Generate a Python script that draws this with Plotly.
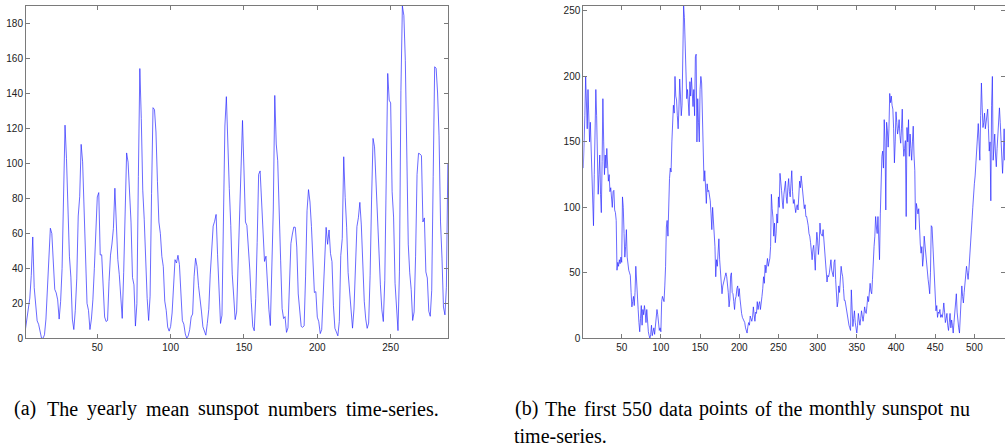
import plotly.graph_objects as go

# ---------------- data ----------------
yearly = [
    5.0, 11.0, 16.0, 23.0, 36.0, 58.0, 29.0, 20.0, 10.0, 8.0,
    3.0, 0.0, 0.0, 2.0, 11.0, 27.0, 47.0, 63.0, 60.0, 39.0,
    28.0, 26.0, 22.0, 11.0, 21.0, 40.0, 78.0, 122.0, 103.0, 73.0,
    47.0, 35.0, 11.0, 5.0, 16.0, 34.0, 70.0, 81.0, 111.0, 101.0,
    73.0, 40.0, 20.0, 16.0, 5.0, 11.0, 22.0, 40.0, 60.0, 80.9,
    83.4, 47.7, 47.8, 30.7, 12.2, 9.6, 10.2, 32.4, 47.6, 54.0,
    62.9, 85.9, 61.2, 45.1, 36.4, 20.9, 11.4, 37.8, 69.8, 106.1,
    100.8, 81.6, 66.5, 34.8, 30.6, 7.0, 19.8, 92.5, 154.4, 125.9,
    84.8, 68.1, 38.5, 22.8, 10.2, 24.1, 82.9, 132.0, 130.9, 118.1,
    89.9, 66.6, 60.0, 46.9, 41.0, 21.3, 16.0, 6.4, 4.1, 6.8,
    14.5, 34.0, 45.0, 43.1, 47.5, 42.2, 28.1, 10.1, 8.1, 2.5,
    0.0, 1.4, 5.0, 12.2, 13.9, 35.4, 45.8, 41.1, 30.1, 23.9,
    15.6, 6.6, 4.0, 1.8, 8.5, 16.6, 36.3, 49.6, 64.2, 67.0,
    70.9, 47.8, 27.5, 8.5, 13.2, 56.9, 121.5, 138.3, 103.2, 85.7,
    64.6, 36.7, 24.2, 10.7, 15.0, 40.1, 61.5, 98.5, 124.7, 96.3,
    66.6, 64.5, 54.1, 39.0, 20.6, 6.7, 4.3, 22.7, 54.8, 93.8,
    95.8, 77.2, 59.1, 44.0, 47.0, 30.5, 16.3, 7.3, 37.6, 74.0,
    139.0, 111.2, 101.6, 66.2, 44.7, 17.0, 11.3, 12.4, 3.4, 6.0,
    32.3, 54.3, 59.7, 63.7, 63.5, 52.2, 25.4, 13.1, 6.8, 6.3,
    7.1, 35.6, 73.0, 85.1, 78.0, 64.0, 41.8, 26.2, 26.7, 12.1,
    9.5, 2.7, 5.0, 24.4, 42.0, 63.5, 53.8, 62.0, 48.5, 43.9,
    18.6, 5.7, 3.6, 1.4, 9.6, 47.4, 57.1, 103.9, 80.6, 63.6,
    37.6, 26.1, 14.2, 5.8, 16.7, 44.3, 63.9, 69.0, 77.8, 64.9,
    35.7, 21.2, 11.1, 5.7, 8.7, 36.1, 79.7, 114.4, 109.6, 88.8,
    67.8, 47.5, 30.6, 16.3, 9.6, 33.2, 92.6, 151.6, 136.3, 134.7,
    83.9, 69.4, 31.5, 13.9, 4.4, 38.0, 141.7, 190.2, 184.8, 159.0,
    112.3, 53.9, 37.5, 27.9, 10.2, 15.1, 47.0, 93.8, 105.9, 105.5,
    104.5, 66.6, 68.9, 38.0, 34.5, 15.5, 12.6, 27.5, 92.5, 155.4,
    154.6, 140.4, 115.9, 66.6, 45.9, 17.9, 13.4, 29.2, 100.2,
]
year_index = list(range(1, len(yearly) + 1))

monthly = [
    130, 145, 170, 200, 185, 160, 190, 175, 150, 165,
    140, 120, 100, 86, 125, 150, 190, 170, 130, 110,
    125, 140, 110, 96, 135, 183, 150, 125, 140, 130,
    145, 130, 120, 125, 112, 115, 105, 100, 112,
    113, 98, 96, 90, 52, 58, 55, 60, 57, 62,
    58, 108, 100, 80, 62, 70, 83, 62, 55, 52,
    50, 48, 35, 24, 28, 32, 25, 35, 55, 40,
    30, 22, 12, 5, 15, 25, 10, 22, 18, 25,
    20, 12, 22, 8, 5, 2, 0, 3, 10, 2,
    5, 8, 3, 10, 12, 22, 18, 10, 6,
    8, 5, 28, 32, 30, 28, 40, 55, 85, 90,
    78, 112, 122, 130, 127, 150, 160, 178, 172, 200,
    185, 182, 170, 160, 175, 198, 185, 170, 178, 215,
    253.8, 245, 225, 220, 183, 190, 175, 170, 196, 185,
    199, 180, 177, 190, 170, 215, 217, 150, 183, 165,
    150, 190, 200, 195, 160, 145, 120, 128, 110,
    103, 118, 112, 113, 108, 105, 95, 83, 100, 90,
    88, 70, 47, 60, 55, 65, 76, 60, 52, 45,
    34, 40, 42, 45, 48, 50, 47, 42, 35, 24,
    30, 48, 50, 35, 34, 28, 22, 30, 32, 38,
    40, 32, 38, 30, 22, 19, 16, 15, 13, 12,
    8, 5, 4, 9, 12, 10, 17, 15, 13,
    16, 24, 18, 13, 20, 19, 28, 22, 26, 28,
    22, 30, 32, 38, 47, 42, 56, 50, 55, 61,
    55, 58, 61, 70, 110, 99, 92, 78, 88, 73,
    80, 95, 88, 108, 100, 126, 115, 113, 104, 99,
    110, 115, 120, 108, 103, 115, 122, 112, 108, 118,
    128, 112, 103, 106, 99, 96, 100, 102, 98,
    108, 120, 115, 124, 118, 110, 105, 99, 102, 93,
    93, 90, 86, 80, 78, 73, 65, 60, 68, 71,
    62, 52, 70, 81, 75, 64, 72, 88, 80, 78,
    78, 83, 75, 70, 64, 55, 43, 48, 47, 50,
    55, 60, 52, 48, 47, 58, 60, 45, 32, 24,
    28, 40, 35, 45, 55, 50, 47, 38, 29,
    29, 25, 19, 15, 12, 10, 8, 6, 37, 20,
    9, 15, 21, 12, 8, 4, 10, 19, 14, 10,
    15, 21, 17, 13, 18, 24, 20, 19, 25, 32,
    28, 38, 42, 36, 34, 45, 62, 70, 78, 93,
    85, 80, 93, 75, 60, 95, 125, 139, 143, 130,
    167, 150, 98, 165, 159, 146, 160, 187, 180,
    185, 178, 175, 160, 134, 150, 173, 165, 156, 160,
    167, 155, 149, 160, 175, 150, 139, 145, 151, 93,
    161, 150, 167, 139, 156, 145, 136, 150, 162, 140,
    128, 83, 103, 99, 95, 99, 78, 72, 65, 70,
    55, 62, 78, 70, 62, 58, 52, 45, 40, 34,
    50, 86, 85, 70, 65, 45, 30, 21, 25,
    16, 20, 19, 22, 16, 18, 16, 20, 27, 20,
    12, 15, 19, 10, 6, 12, 19, 8, 14, 10,
    4, 12, 19, 25, 34, 20, 12, 8, 4, 15,
    28, 40, 32, 27, 35, 42, 48, 55, 50, 45,
    52, 60, 70, 83, 90, 100, 113, 118, 124, 135,
    146, 155, 164, 150, 136, 170, 195, 176, 161,
    165, 172, 160, 167, 170, 175, 160, 143, 150, 105,
    178, 200, 136, 145, 156, 140, 131, 145, 159, 168,
    176, 165, 149, 138, 126, 140, 160, 136, 150, 130,
    145, 170, 155, 162, 138, 150, 175, 160, 148,
]
month_index = list(range(1, len(monthly) + 1))

x1_ticks = [50, 100, 150, 200, 250]
y1_ticks = [0, 20, 40, 60, 80, 100, 120, 140, 160, 180]
x2_ticks = [50, 100, 150, 200, 250, 300, 350, 400, 450, 500]
y2_ticks = [0, 50, 100, 150, 200, 250]

caption_a_words = ["(a)", "The", "yearly", "mean", "sunspot", "numbers", "time-series."]
caption_b_words = ["(b)", "The", "first", "550", "data", "points", "of", "the",
                   "monthly", "sunspot", "nu"]
caption_b_line2 = "time-series."

# ---------------- layout helpers ----------------
W, H = 1005, 446


def fx(p):
    return p / W


def fy(p):
    return 1 - p / H


AX_COL = "#7a7a7a"
common = dict(showline=True, linecolor=AX_COL, linewidth=1, mirror="ticks",
              ticks="inside", ticklen=4, tickcolor=AX_COL, tickwidth=1,
              showgrid=False, zeroline=False, automargin=False,
              tickfont=dict(family="Liberation Sans, Arial", size=10, color="#222"))

fig = go.Figure()
fig.add_trace(go.Scatter(x=year_index, y=yearly, mode="lines",
                         line=dict(color="#2a2aff", width=0.7),
                         xaxis="x", yaxis="y", showlegend=False))
fig.add_trace(go.Scatter(x=month_index, y=monthly, mode="lines",
                         line=dict(color="#2a2aff", width=0.7),
                         xaxis="x2", yaxis="y2", showlegend=False))

fig.update_layout(
    width=W, height=H,
    margin=dict(l=0, r=0, t=0, b=0, autoexpand=False),
    paper_bgcolor="white", plot_bgcolor="white",
    xaxis=dict(domain=[fx(26), fx(448.3)], range=[1.4, 289.3],
               tickvals=x1_ticks, anchor="y", **common),
    yaxis=dict(domain=[fy(338.3), fy(6)], range=[0, 190.2],
               tickvals=y1_ticks, anchor="x", **common),
    xaxis2=dict(domain=[fx(583.3), 1.0], range=[1, 539.1],
                tickvals=x2_ticks, anchor="y2", **common),
    yaxis2=dict(domain=[fy(338.3), fy(6)], range=[0, 253.8],
                tickvals=y2_ticks, anchor="x2", **common),
)

serif = dict(family="Liberation Serif", size=20, color="black")


def word(text, px, py, **kw):
    return dict(text=text, x=fx(px), y=fy(py), xref="paper", yref="paper",
                xanchor="left", yanchor="middle", showarrow=False, font=serif, **kw)


ann = []
a_x = [11.7, 45, 85, 143.9, 196.1, 266.1, 343.9]
for w, px in zip(caption_a_words, a_x):
    ann.append(word(w, px, 408.5))
b_x = [513.3, 543.3, 581.5, 620, 657, 696.7, 752.5, 776, 807, 880.2, 948]
for w, px in zip(caption_b_words, b_x):
    ann.append(word(w, px, 408.5))
ann.append(word(caption_b_line2, 513.3, 435.5, height=20, borderpad=0))
fig.update_layout(annotations=ann)

fig.write_html("out.html",
               config={"displayModeBar": False},
               post_script="document.body.style.margin='0px';"
                           "document.body.style.padding='0px';")
